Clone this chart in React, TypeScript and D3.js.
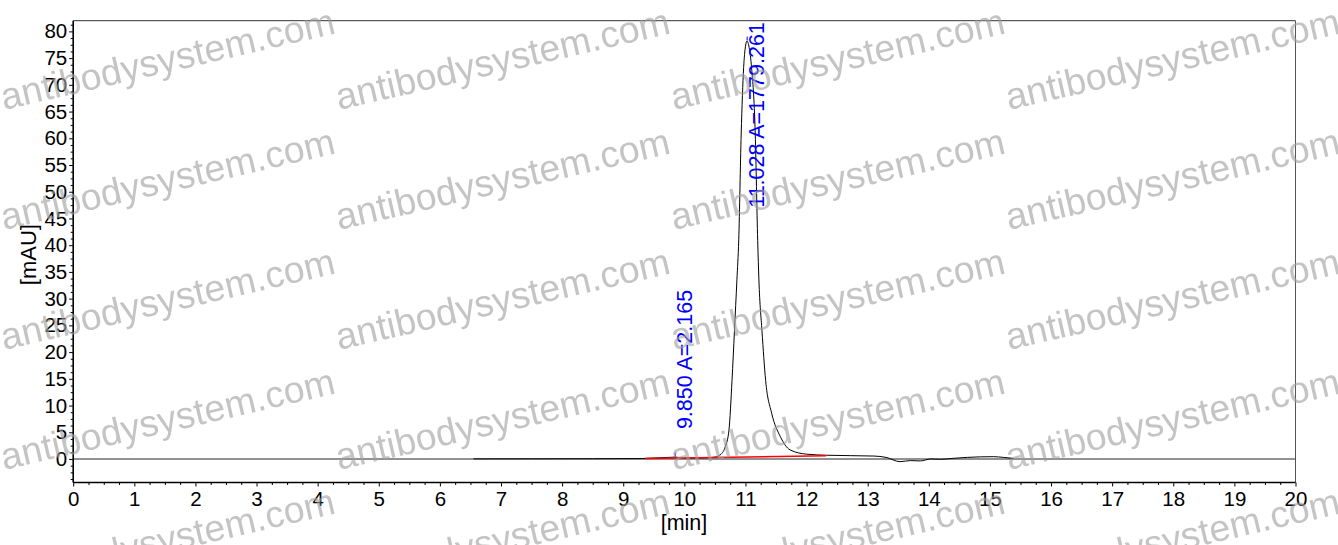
import React, { useEffect, useRef } from 'react';
import * as d3 from 'd3';

// chromatogram trace (min, mAU)
const signalTimes = [
  6.55, 7.5, 8.5, 9.3, 9.85, 10.0, 10.3, 10.5, 10.6, 10.67, 10.73, 10.78, 10.82, 10.86, 10.89,
  10.93, 10.97, 11.0, 11.025, 11.06, 11.1, 11.16, 11.2, 11.22, 11.27, 11.33, 11.43, 11.57, 11.73,
  12.0, 12.33, 13.1, 13.3, 13.53, 13.7, 13.86, 14.03, 14.19, 14.41, 14.63, 15.06, 15.22, 15.39,
];
const signalValues = [
  0.02, 0.03, 0.05, 0.08, 0.35, 0.2, 0.2, 0.35, 0.9, 2.3, 5.4, 14.7, 24, 33.5, 41,
  60.8, 73.2, 77.2, 78.2, 77.0, 73.2, 60.8, 40.9, 33.5, 24, 14.7, 8.5, 4.2, 1.7,
  0.9, 0.7, 0.55, 0.3, -0.5, -0.3, -0.37, 0, -0.06, 0.13, 0.3, 0.43, 0.3, 0.1,
];

// integration baseline (red)
const baselineTimes = [9.36, 12.32];
const baselineValues = [0.1, 0.6];

// peak annotations
const peakTimes = [9.85, 11.028];
const peakHeights = [0.35, 78.2];
const peakAreas = ['2.165', '1779.261'];

const xTicks = [0, 1, 2, 3, 4, 5, 6, 7, 8, 9, 10, 11, 12, 13, 14, 15, 16, 17, 18, 19, 20];
const yTicks = [0, 5, 10, 15, 20, 25, 30, 35, 40, 45, 50, 55, 60, 65, 70, 75, 80];

const watermarkText = 'antibodysystem.com';
const watermarkCols = [0, 1, 2, 3];
const watermarkRows = [0, 1, 2, 3, 4];

const W = 1338;
const H = 545;
const plot = { left: 73.2, right: 1295.5, top: 20.7, bottom: 482.5 };
const FONT = '"Liberation Sans", Arial, sans-serif';

const x = d3.scaleLinear().domain([0, 20]).range([plot.left, plot.right]);
const y = d3.scaleLinear().domain([-4.4, 82]).range([plot.bottom, plot.top]);

const Chart: React.FC = () => {
  const axesRef = useRef<SVGGElement>(null);

  useEffect(() => {
    if (!axesRef.current) return;
    const g = d3.select(axesRef.current);
    g.selectAll('*').remove();

    const xMinor = d3.range(0, 20.001, 0.25).filter(v => Math.abs(v - Math.round(v)) > 1e-6);
    const yMinor = d3.range(-3.75, 82, 1.25).filter(v => Math.abs(v / 5 - Math.round(v / 5)) > 1e-6);

    g.append('g')
      .attr('transform', `translate(0,${plot.bottom})`)
      .call(d3.axisBottom(x).tickValues(xMinor).tickSize(2.5).tickFormat(() => ''))
      .call(s => s.select('.domain').remove());

    g.append('g')
      .attr('transform', `translate(0,${plot.bottom})`)
      .call(d3.axisBottom(x).tickValues(xTicks).tickSize(4).tickPadding(5).tickFormat(d3.format('d')))
      .call(s => s.select('.domain').remove())
      .call(s => s.selectAll('text').style('font-size', '20.5px').style('font-family', FONT).attr('fill', '#000'));

    g.append('g')
      .attr('transform', `translate(${plot.left},0)`)
      .call(d3.axisLeft(y).tickValues(yMinor).tickSize(2.5).tickFormat(() => ''))
      .call(s => s.select('.domain').remove());

    g.append('g')
      .attr('transform', `translate(${plot.left},0)`)
      .call(d3.axisLeft(y).tickValues(yTicks).tickSize(4).tickPadding(2).tickFormat(d3.format('d')))
      .call(s => s.select('.domain').remove())
      .call(s => s.selectAll('text').style('font-size', '20.5px').style('font-family', FONT).attr('fill', '#000'));

    g.selectAll('line').attr('stroke', '#000').attr('stroke-width', 1);
  }, []);

  const trace = d3.line<number>()
    .x((_, i) => x(signalTimes[i]))
    .y(v => y(v))
    .curve(d3.curveMonotoneX)(signalValues);

  const base = d3.line<number>()
    .x((_, i) => x(baselineTimes[i]))
    .y(v => y(v))(baselineValues);

  return (
    <svg width={W} height={H} style={{ position: 'absolute', left: 0, top: 0, background: '#fff' }}>
      <rect x={0} y={0} width={W} height={H} fill="#fff" />

      {/* zero line */}
      <line x1={x(0)} x2={x(20)} y1={y(0)} y2={y(0)} stroke="#6e6e6e" strokeWidth={1.3} />

      <path d={trace || ''} fill="none" stroke="#000" strokeWidth={1} />
      <path d={base || ''} fill="none" stroke="#ff0000" strokeWidth={1.4} />

      {peakTimes.map((t, i) => {
        const label = `${t.toFixed(3)} A=${peakAreas[i]}`;
        const px = x(t);
        const start = y(peakHeights[i]) - 28;
        const estLen = label.length * 11.2;
        const fits = start - estLen > plot.top;
        const ty = fits ? start : plot.top + 1.5;
        return (
          <g key={t}>
            <line x1={px} x2={px} y1={y(peakHeights[i]) - 0.5} y2={y(peakHeights[i]) - 4.5} stroke="#0000ff" strokeWidth={1} />
            <text
              transform={`translate(${px + 16.5},${ty}) rotate(-90)`}
              textAnchor={fits ? 'start' : 'end'}
              fontFamily={FONT}
              fontSize={21.5}
              fill="#0000ff"
            >
              {label}
            </text>
          </g>
        );
      })}

      <g ref={axesRef} />

      {/* frame */}
      <line x1={plot.left} x2={plot.right} y1={plot.top} y2={plot.top} stroke="#333" strokeWidth={1} />
      <line x1={plot.right} x2={plot.right} y1={plot.top} y2={plot.bottom} stroke="#555" strokeWidth={1} />
      <line x1={plot.left} x2={plot.left} y1={plot.top} y2={plot.bottom} stroke="#000" strokeWidth={1.6} />
      <line x1={plot.left} x2={plot.right} y1={plot.bottom} y2={plot.bottom} stroke="#000" strokeWidth={1.6} />

      <text x={684} y={530} textAnchor="middle" fontFamily={FONT} fontSize={21.5} fill="#000">[min]</text>
      <text transform={`translate(36,${(plot.top + plot.bottom) / 2 + 3}) rotate(-90)`} textAnchor="middle" fontFamily={FONT} fontSize={22} fill="#000">[mAU]</text>

      {/* watermark */}
      <g fontFamily={FONT} fontSize={37.5} fill="#a0a0a0" opacity={0.62}>
        {watermarkCols.flatMap(c =>
          watermarkRows.map(r => {
            const wx = 4 + 335 * c;
            const wy = 110 + 120 * r;
            return (
              <text key={`${c}-${r}`} x={wx} y={wy} transform={`rotate(-13,${wx},${wy})`}>
                {watermarkText}
              </text>
            );
          })
        )}
      </g>
    </svg>
  );
};

export default function App() {
  return <Chart />;
}
